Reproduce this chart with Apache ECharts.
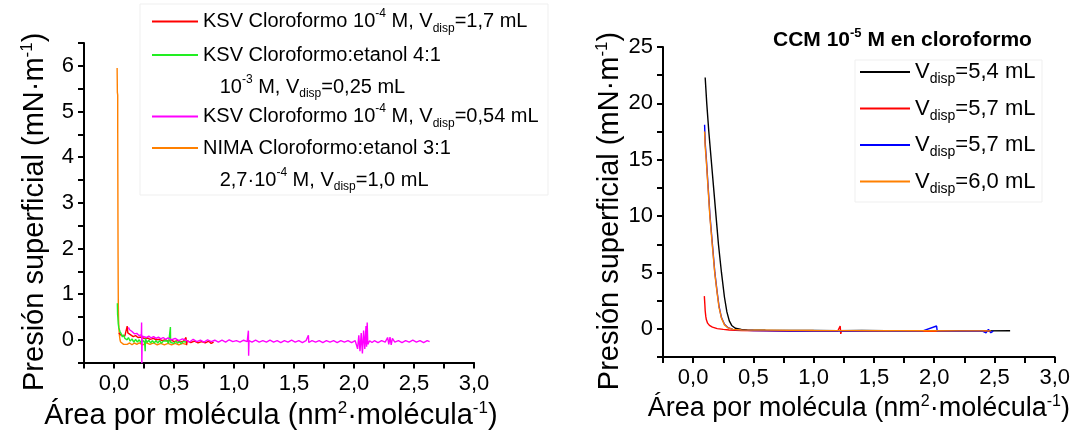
<!DOCTYPE html>
<html>
<head>
<meta charset="utf-8">
<script src="https://cdn.jsdelivr.net/npm/echarts@6/dist/echarts.min.js"></script>
<style>
  html, body { margin: 0; padding: 0; background: #fff; }
  #chart { width: 1073px; height: 435px; }
</style>
</head>
<body>
<div id="chart"></div>
<script>
// ---- Isotermas π–A (presión superficial frente a área por molécula) ----

// Panel izquierdo: KSV y NIMA
const ksvCloro17 = [
  [0.040, 0.15], [0.060, 0.10], [0.090, 0.08], [0.110, 0.30], [0.115, 0.15], [0.130, 0.11],
  [0.160, 0.07], [0.180, 0.09], [0.200, 0.05], [0.230, 0.06], [0.250, 0.03], [0.280, 0.04],
  [0.300, 0.01], [0.330, 0.03], [0.350, 0.00], [0.380, 0.01], [0.400, -0.02], [0.430, 0.00],
  [0.450, -0.03], [0.480, -0.01], [0.500, -0.04], [0.530, -0.02], [0.550, -0.05], [0.580, -0.03],
  [0.600, 0.05], [0.605, -0.12], [0.610, -0.02], [0.640, -0.06], [0.670, -0.03], [0.700, -0.07],
  [0.730, -0.04], [0.760, -0.07], [0.790, -0.03], [0.810, -0.08], [0.830, -0.05]
];
const ksvCloroEtanol = [
  [0.028, 0.80], [0.030, 0.55], [0.032, 0.50], [0.035, 0.36], [0.040, 0.26], [0.050, 0.18],
  [0.060, 0.13], [0.070, 0.06], [0.080, 0.11], [0.090, 0.03], [0.100, 0.07], [0.110, 0.00],
  [0.120, 0.05], [0.135, -0.03], [0.150, 0.02], [0.165, -0.05], [0.180, 0.01], [0.195, -0.05],
  [0.210, 0.00], [0.225, -0.06], [0.240, -0.01], [0.255, -0.06], [0.260, -0.25], [0.262, 0.03],
  [0.275, -0.06], [0.290, -0.01], [0.305, -0.07], [0.320, -0.02], [0.335, -0.07], [0.350, -0.02],
  [0.365, -0.07], [0.380, -0.02], [0.395, -0.08], [0.410, -0.03], [0.425, -0.07], [0.440, -0.02],
  [0.455, -0.08], [0.470, 0.28], [0.472, -0.06], [0.485, -0.03], [0.500, -0.08], [0.515, -0.03],
  [0.530, -0.08], [0.545, -0.03], [0.560, -0.09], [0.575, -0.04], [0.590, -0.08], [0.600, -0.05]
];
const ksvCloro054 = [
  [0.120, 0.27], [0.130, 0.22], [0.150, 0.18], [0.170, 0.13], [0.190, 0.14], [0.210, 0.09],
  [0.228, 0.11], [0.230, 0.38], [0.232, -0.55], [0.235, 0.08], [0.250, 0.09], [0.270, 0.05],
  [0.290, 0.08], [0.310, 0.04], [0.330, 0.07], [0.350, 0.03], [0.370, 0.06], [0.390, 0.02],
  [0.410, 0.05], [0.430, 0.01], [0.450, 0.04], [0.480, 0.00], [0.510, 0.03], [0.540, -0.02],
  [0.570, 0.02], [0.600, -0.01], [0.630, -0.05], [0.660, 0.01], [0.690, -0.04], [0.720, -0.01],
  [0.750, -0.05], [0.780, 0.00], [0.810, -0.04], [0.840, -0.01], [0.870, -0.05], [0.900, -0.01],
  [0.930, -0.05], [0.960, 0.00], [0.990, -0.04], [1.020, -0.02], [1.050, -0.05], [1.080, -0.01],
  [1.110, -0.04], [1.120, 0.20], [1.122, -0.35], [1.125, -0.02], [1.150, -0.05], [1.180, -0.01],
  [1.210, -0.05], [1.240, -0.02], [1.270, -0.05], [1.300, -0.01], [1.330, -0.05], [1.360, -0.02],
  [1.390, -0.06], [1.420, -0.02], [1.450, -0.05], [1.480, -0.01], [1.510, -0.05], [1.540, -0.02],
  [1.570, -0.06], [1.600, -0.02], [1.620, 0.10], [1.623, -0.06], [1.650, -0.02], [1.680, -0.05],
  [1.710, -0.02], [1.740, -0.06], [1.770, -0.02], [1.800, -0.05], [1.830, -0.02], [1.860, -0.06],
  [1.890, -0.02], [1.920, -0.05], [1.950, -0.02], [1.980, -0.06], [2.010, -0.02], [2.030, -0.20],
  [2.040, 0.10], [2.050, -0.25], [2.060, 0.15], [2.070, -0.30], [2.080, 0.20], [2.090, -0.20],
  [2.100, 0.30], [2.105, -0.15], [2.110, 0.38], [2.115, -0.10], [2.130, -0.02], [2.150, -0.06],
  [2.170, -0.02], [2.200, -0.06], [2.230, -0.02], [2.260, -0.05], [2.280, 0.05], [2.290, -0.10],
  [2.300, 0.06], [2.310, -0.11], [2.320, 0.03], [2.340, -0.05], [2.370, -0.02], [2.400, -0.06],
  [2.430, -0.02], [2.460, -0.05], [2.490, -0.01], [2.520, -0.05], [2.550, -0.02], [2.580, -0.06],
  [2.610, -0.02], [2.630, -0.04]
];
const nimaCloroEtanol = [
  [0.026, 5.95], [0.027, 5.70], [0.028, 5.42], [0.031, 5.36], [0.031, 4.60], [0.032, 3.60],
  [0.033, 2.60], [0.034, 1.80], [0.035, 1.20], [0.036, 0.75], [0.038, 0.45], [0.041, 0.25],
  [0.045, 0.10], [0.050, 0.00], [0.055, -0.05], [0.065, -0.07], [0.080, -0.10], [0.095, -0.06],
  [0.110, -0.10], [0.130, -0.07], [0.150, -0.11], [0.170, -0.07], [0.190, -0.10], [0.210, -0.07],
  [0.240, -0.11], [0.270, -0.07], [0.300, -0.10], [0.330, -0.07], [0.360, -0.11], [0.390, -0.08],
  [0.420, -0.11], [0.450, -0.08], [0.480, -0.11], [0.510, -0.08], [0.540, -0.11], [0.570, -0.08],
  [0.600, -0.10]
];

// Panel derecho: CCM 1e-5 M en cloroformo
const ccm54 = [
  [0.100, 22.3], [0.113, 20.0], [0.130, 17.5], [0.150, 15.0], [0.170, 12.5], [0.190, 10.0],
  [0.210, 7.5], [0.235, 5.0], [0.260, 2.8], [0.280, 1.5], [0.300, 0.7], [0.320, 0.3],
  [0.350, 0.05], [0.400, -0.05], [0.450, -0.10], [0.600, -0.13], [0.800, -0.15], [1.000, -0.14],
  [1.200, -0.16], [1.400, -0.15], [1.600, -0.17], [1.800, -0.16], [2.000, -0.17], [2.200, -0.16],
  [2.400, -0.18], [2.630, -0.17]
];
const ccm57a = [
  [0.093, 2.90], [0.097, 2.20], [0.100, 1.60], [0.105, 1.10], [0.110, 0.80], [0.120, 0.50],
  [0.135, 0.30], [0.160, 0.15], [0.200, 0.02], [0.250, -0.05], [0.300, -0.10], [0.400, -0.15],
  [0.600, -0.18], [0.800, -0.20], [1.000, -0.19], [1.200, -0.20], [1.220, 0.25], [1.225, -0.45],
  [1.230, -0.20], [1.500, -0.20], [1.800, -0.22], [2.100, -0.21], [2.400, -0.22], [2.470, -0.20]
];
const ccm57b = [
  [0.095, 18.1], [0.100, 16.5], [0.110, 15.0], [0.125, 12.5], [0.140, 10.0], [0.160, 7.5],
  [0.180, 5.0], [0.200, 3.2], [0.215, 2.0], [0.235, 1.0], [0.260, 0.4], [0.290, 0.1],
  [0.330, -0.05], [0.400, -0.12], [0.500, -0.15], [0.700, -0.17], [0.900, -0.20], [1.100, -0.18],
  [1.300, -0.20], [1.500, -0.19], [1.700, -0.21], [1.900, -0.20], [2.020, 0.25], [2.025, -0.20],
  [2.200, -0.22], [2.400, -0.20], [2.430, -0.35], [2.450, -0.05], [2.470, -0.35], [2.490, -0.20]
];
const ccm60 = [
  [0.095, 17.5], [0.100, 16.2], [0.110, 14.8], [0.125, 12.3], [0.140, 9.8], [0.160, 7.3],
  [0.180, 4.9], [0.200, 3.1], [0.215, 1.9], [0.235, 0.95], [0.260, 0.35], [0.290, 0.08],
  [0.330, -0.05], [0.400, -0.10], [0.600, -0.12], [0.800, -0.14], [1.000, -0.15], [1.300, -0.16],
  [1.600, -0.17], [1.900, -0.17], [2.200, -0.18], [2.470, -0.18]
];

// Nombres de serie y colores
const leftNames = ['KSV 1,7 mL', 'KSV etanol 0,25 mL', 'KSV 0,54 mL', 'NIMA 1,0 mL'];
const leftColors = ['#ff0000', '#22ee22', '#ff00ff', '#ff8000'];
const rightNames = ['V 5,4 mL', 'V 5,7 mL (a)', 'V 5,7 mL (b)', 'V 6,0 mL'];
const rightColors = ['#000000', '#ff0000', '#0000ff', '#ff8000'];

// Textos enriquecidos de leyenda (sup = superíndice, sub = subíndice)
const leftLegendText = {
  'KSV 1,7 mL': '{t|KSV Cloroformo 10}{sup|-4}{t| M, V}{sub|disp}{t|=1,7 mL}',
  'KSV etanol 0,25 mL': '{t|KSV Cloroformo:etanol 4:1}\n{t|   10}{sup|-3}{t| M, V}{sub|disp}{t|=0,25 mL}',
  'KSV 0,54 mL': '{t|KSV Cloroformo 10}{sup|-4}{t| M, V}{sub|disp}{t|=0,54 mL}',
  'NIMA 1,0 mL': '{t|NIMA Cloroformo:etanol 3:1}\n{t|   2,7·10}{sup|-4}{t| M, V}{sub|disp}{t|=1,0 mL}'
};
const rightLegendText = {
  'V 5,4 mL': '{t|V}{sub|disp}{t|=5,4 mL}',
  'V 5,7 mL (a)': '{t|V}{sub|disp}{t|=5,7 mL}',
  'V 5,7 mL (b)': '{t|V}{sub|disp}{t|=5,7 mL}',
  'V 6,0 mL': '{t|V}{sub|disp}{t|=6,0 mL}'
};

const FONT = '"Liberation Sans", Arial, sans-serif';
const xName = '{n|Área por molécula (nm}{sup|2}{n|·molécula}{sup|-1}{n|)}';
const yName = '{n|Presión superficial (mN·m}{sup|-1}{n|)}';
const nameRich = size => ({
  n: { fontSize: size, fontFamily: FONT, color: '#000' },
  sup: { fontSize: Math.round(size * 0.6), fontFamily: FONT, color: '#000', padding: [0, 0, Math.round(size * 0.5), 0] }
});
const legendRich = (size, lh) => ({
  t: { fontSize: size, lineHeight: lh, fontFamily: FONT, color: '#000' },
  sup: { fontSize: Math.round(size * 0.62), fontFamily: FONT, color: '#000', padding: [0, 0, Math.round(size * 0.75), 0] },
  sub: { fontSize: Math.round(size * 0.62), fontFamily: FONT, color: '#000', padding: [Math.round(size * 0.7), 0, 0, 0] }
});

const fmtComma = v => v.toFixed(1).replace('.', ',');
const isMultiple = (v, step) => Math.abs(v / step - Math.round(v / step)) < 1e-6;

function xAxisDef(gridIndex, nameSize, namePad) {
  return {
    gridIndex, type: 'value', min: -0.25, max: 3.0, interval: 0.25,
    name: xName, nameLocation: 'middle', nameGap: 31,
    nameTextStyle: { rich: nameRich(nameSize), verticalAlign: 'top', padding: namePad },
    axisLine: { onZero: false, lineStyle: { color: '#000', width: 2 } },
    axisTick: { length: 6, lineStyle: { color: '#000', width: 2 } },
    axisLabel: {
      margin: 10, fontSize: 22, fontFamily: FONT, color: '#000',
      formatter: v => (isMultiple(v, 0.5) ? fmtComma(v) : '')
    },
    splitLine: { show: false }
  };
}
function yAxisDef(gridIndex, min, max, step, labelStep, gap) {
  return {
    gridIndex, type: 'value', min, max, interval: step,
    name: yName, nameLocation: 'middle', nameGap: gap, nameRotate: 90,
    nameTextStyle: { rich: nameRich(29), padding: [0, 18, 0, 0] },
    axisLine: { onZero: false, lineStyle: { color: '#000', width: 2 } },
    axisTick: { length: 6, lineStyle: { color: '#000', width: 2 } },
    axisLabel: {
      margin: 10, fontSize: 22, fontFamily: FONT, color: '#000',
      formatter: v => (isMultiple(v, labelStep) ? String(Math.round(v)) : '')
    },
    splitLine: { show: false }
  };
}

function lineSeries(name, data, color, axisIndex, z) {
  return {
    name, type: 'line', data, xAxisIndex: axisIndex, yAxisIndex: axisIndex,
    showSymbol: false, symbol: 'none', z,
    lineStyle: { color, width: 1.4 }, itemStyle: { color },
    emphasis: { disabled: true }
  };
}

// Una leyenda por entrada en el panel izquierdo (las de dos líneas alinean el icono con la primera línea)
const leftLegendTops = [8, 45, 103, 138];
const leftLegends = leftNames.map((name, i) => {
  const twoLines = leftLegendText[name].indexOf('\n') >= 0;
  return {
    data: [name], left: 152, top: leftLegendTops[i], padding: 0,
    icon: 'rect', itemWidth: 46, itemHeight: 2, selectedMode: false,
    formatter: n => leftLegendText[n],
    textStyle: { rich: legendRich(20, 32), padding: twoLines ? [32, 0, 0, 0] : 0 }
  };
});
const rightLegend = {
  data: rightNames, orient: 'vertical', left: 860, top: 61, padding: 0, itemGap: 11,
  icon: 'rect', itemWidth: 50, itemHeight: 2, selectedMode: false,
  formatter: n => rightLegendText[n],
  textStyle: { rich: legendRich(22, 28) }
};

const chart = echarts.init(document.getElementById('chart'), null, { renderer: 'canvas' });
chart.setOption({
  animation: false,
  backgroundColor: '#ffffff',
  title: {
    text: '{t|CCM 10}{sup|-5}{t| M en cloroformo}',
    left: 773, top: 27, padding: 0,
    textStyle: {
      rich: {
        t: { fontSize: 21, fontWeight: 'bold', fontFamily: FONT, color: '#000' },
        sup: { fontSize: 13, fontWeight: 'bold', fontFamily: FONT, color: '#000', padding: [0, 0, 14, 0] }
      }
    }
  },
  grid: [
    { left: 84, top: 43, width: 390, height: 320 },
    { left: 663, top: 47, width: 393, height: 310 }
  ],
  xAxis: [xAxisDef(0, 29, [0, 16, 0, 0]), xAxisDef(1, 27, 0)],
  yAxis: [yAxisDef(0, -0.5, 6.5, 0.5, 1, 33), yAxisDef(1, -2.5, 25, 2.5, 5, 27)],
  legend: leftLegends.concat([rightLegend]),
  graphic: [
    { type: 'rect', shape: { x: 140, y: 4, width: 408, height: 191 }, style: { fill: 'none', stroke: '#efefef', lineWidth: 1 }, silent: true },
    { type: 'rect', shape: { x: 855, y: 60, width: 187, height: 142 }, style: { fill: 'none', stroke: '#efefef', lineWidth: 1 }, silent: true }
  ],
  series: [
    lineSeries(leftNames[3], nimaCloroEtanol, leftColors[3], 0, 1),
    lineSeries(leftNames[0], ksvCloro17, leftColors[0], 0, 2),
    lineSeries(leftNames[1], ksvCloroEtanol, leftColors[1], 0, 3),
    lineSeries(leftNames[2], ksvCloro054, leftColors[2], 0, 4),
    lineSeries(rightNames[0], ccm54, rightColors[0], 1, 1),
    lineSeries(rightNames[1], ccm57a, rightColors[1], 1, 2),
    lineSeries(rightNames[2], ccm57b, rightColors[2], 1, 3),
    lineSeries(rightNames[3], ccm60, rightColors[3], 1, 4)
  ]
});
</script>
</body>
</html>
